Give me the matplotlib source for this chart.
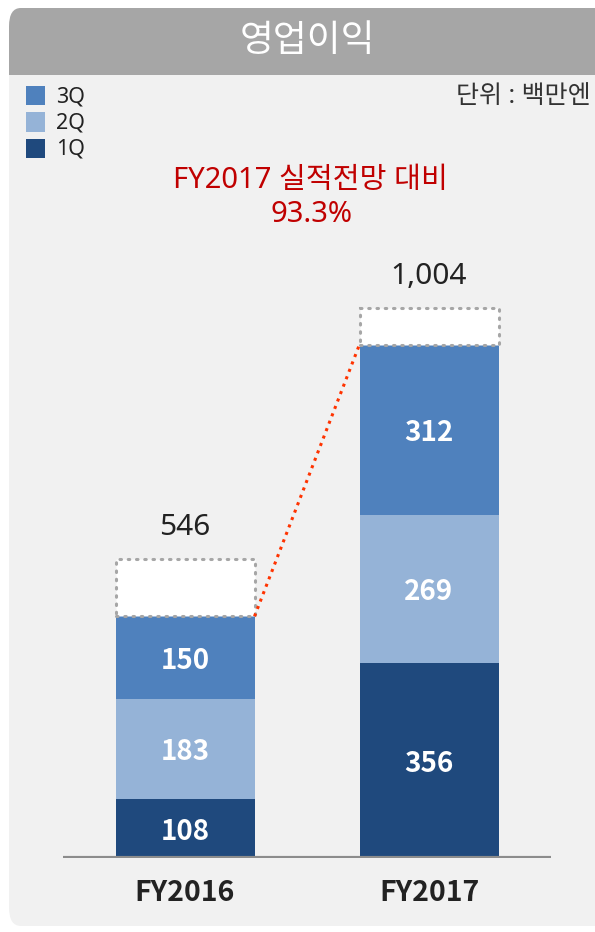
import matplotlib
matplotlib.use('Agg')
import matplotlib.pyplot as plt
from matplotlib.patches import FancyBboxPatch, Rectangle
import numpy as np

plt.rcParams['font.family'] = ['Noto Sans', 'Noto Sans CJK KR', 'DejaVu Sans']
BOLD = ['Noto Sans CJK KR', 'DejaVu Sans']

# data
years = ['FY2016', 'FY2017']
q1 = [108, 356]
q2 = [183, 269]
q3 = [150, 312]
totals = [546, 1004]
quarter_names = ['3Q', '2Q', '1Q']

title = '영업이익'
unit_text = '단위 : 백만엔'
note_lines = ['FY2017 실적전망 대비', '93.3%']

C1, C2, C3 = '#1f497d', '#95b3d7', '#4f81bd'
W, H = 595, 932

fig = plt.figure(figsize=(W / 100, H / 100), dpi=100)
fig.patch.set_facecolor('white')

def fx(px):
    return px / W

def fy(py):
    return 1 - py / H

# panel background with rounded corners, header bar on top
panel = FancyBboxPatch((fx(9), fy(926)), fx(640) - fx(9), fy(8) - fy(926),
                       boxstyle='round,pad=0,rounding_size=0.02',
                       transform=fig.transFigure, facecolor='#f1f1f1',
                       edgecolor='none', zorder=0)
fig.patches.append(panel)
header = FancyBboxPatch((fx(9), fy(75)), fx(640) - fx(9), fy(8) - fy(75),
                        boxstyle='round,pad=0,rounding_size=0.02',
                        transform=fig.transFigure, facecolor='#a6a6a6',
                        edgecolor='none', zorder=1)
fig.patches.append(header)
fig.patches.append(Rectangle((fx(9), fy(75)), fx(640) - fx(9), fy(40) - fy(75),
                             transform=fig.transFigure, facecolor='#a6a6a6',
                             edgecolor='none', zorder=1))
fig.text(fx(307), fy(42), title, color='white', fontsize=26.5,
         ha='center', va='center', zorder=2)

# legend
for i, (name, col) in enumerate(zip(quarter_names, [C3, C2, C1])):
    y = 95.5 + i * 26.5
    fig.patches.append(Rectangle((fx(26), fy(y + 9.5)), fx(19), fy(y - 9.5) - fy(y + 9.5),
                                 transform=fig.transFigure, facecolor=col,
                                 edgecolor='none', zorder=3))
    fig.text(fx(56), fy(y + 1), name, fontsize=15.5, color='#222222',
             ha='left', va='center', zorder=3)

fig.text(fx(591), fy(97), unit_text, fontsize=18, color='#333333',
         ha='right', va='center', zorder=3)
fig.text(fx(310), fy(181), note_lines[0], fontsize=21, color='#c00000',
         ha='center', va='center', zorder=3)
fig.text(fx(311), fy(215), note_lines[1], fontsize=21, color='#c00000',
         ha='center', va='center', zorder=3)

# chart axes: baseline at y=858px, 0.548 px per unit
scale = 0.548
ymax = 1300
ax = fig.add_axes([fx(63), fy(858), fx(551) - fx(63), ymax * scale / H])
ax.set_zorder(3)
ax.set_xlim(-0.5, 1.5)
ax.set_ylim(0, ymax)
ax.set_facecolor('none')
for s in ax.spines.values():
    s.set_visible(False)
ax.set_xticks([])
ax.set_yticks([])

x = np.arange(len(years))
bw = 139 / 244
q1a, q2a, q3a = np.array(q1), np.array(q2), np.array(q3)
sums = q1a + q2a + q3a
rest = np.array(totals) - sums

ax.bar(x, q1a, bw, color=C1, zorder=2)
ax.bar(x, q2a, bw, bottom=q1a, color=C2, zorder=2)
ax.bar(x, q3a, bw, bottom=q1a + q2a, color=C3, zorder=2)
ax.bar(x, rest, bw, bottom=sums, color='white', edgecolor='#a6a6a6',
       linewidth=2.2, linestyle=(0, (0.5, 2.2)), capstyle='round', zorder=2)

for xi, a, b, c in zip(x, q1a, q2a, q3a):
    for bottom, v in [(0, a), (a, b), (a + b, c)]:
        ax.text(xi, bottom + v / 2 - 6, str(v), color='white', fontsize=20,
                family=BOLD, fontweight='bold', ha='center', va='center',
                zorder=3)

for xi, t in zip(x, totals):
    ax.text(xi, t + 30, f'{t:,}', fontsize=21.5, color='#222222',
            ha='center', va='bottom')

# dotted connector between the quarter stacks
ax.plot([x[0] + bw / 2, x[1] - bw / 2], [sums[0], sums[1]], color='#ff3300',
        linewidth=2.2, linestyle=(0, (1, 1.6)), zorder=3)

ax.axhline(0, color='#8c8c8c', linewidth=3, zorder=4)

for xi, lab in zip(x, years):
    ax.text(xi, -64, lab, fontsize=20.5, family=BOLD, fontweight='bold',
            color='#222222', ha='center', va='center')

fig.savefig('out.png', dpi=100, facecolor='white')
